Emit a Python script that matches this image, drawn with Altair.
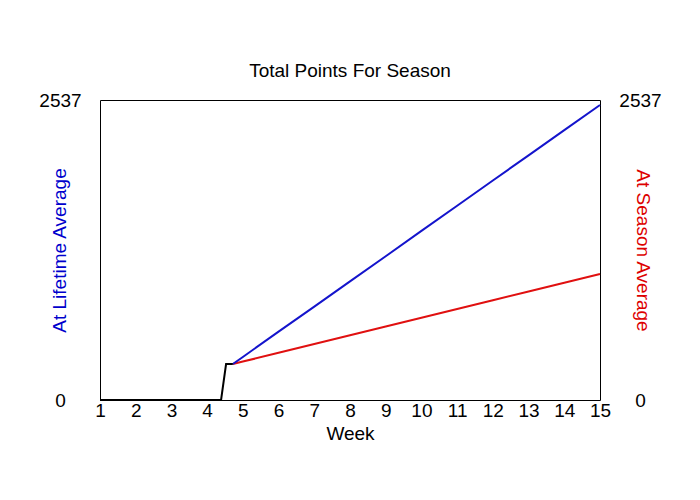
import altair as alt
import pandas as pd

# Data
black_weeks = [1, 4.39, 4.53, 4.72]
black_points = [0, 0, 304, 304]

blue_weeks = [4.72, 5, 6, 7, 8, 9, 10, 11, 12, 13, 14, 15]
blue_points = [304, 364, 578, 790, 1003, 1216, 1430, 1643, 1856, 2069, 2282, 2495]

red_weeks = [4.72, 5, 6, 7, 8, 9, 10, 11, 12, 13, 14, 15]
red_points = [304, 325, 399, 473, 548, 622, 696, 770, 844, 918, 992, 1066]

y_max = 2537
x_ticks = list(range(1, 16))

FONT = "Liberation Sans"
FS = 19

df_black = pd.DataFrame({"week": black_weeks, "points": black_points})
df_blue = pd.DataFrame({"week": blue_weeks, "points": blue_points})
df_red = pd.DataFrame({"week": red_weeks, "points": red_points})

x_enc = alt.X(
    "week:Q",
    scale=alt.Scale(domain=[1, 15], nice=False, zero=False),
    axis=alt.Axis(
        values=x_ticks, format="d", ticks=False, domain=False, grid=False,
        labelFlush=False, labelPadding=1, labelFontSize=FS, labelFont=FONT,
        labelColor="black", title="Week", titleFontSize=FS, titleFont=FONT,
        titleFontWeight="normal", titleColor="black", titlePadding=4,
    ),
)

yscale = alt.Scale(domain=[0, y_max], nice=False, zero=True)

left_axis = alt.Axis(
    values=[0, y_max], format="d", ticks=False, tickSize=0, domain=False, grid=False,
    labelAlign="center", labelPadding=40, labelFontSize=FS, labelFont=FONT,
    labelColor="black", title="At Lifetime Average", titleFontSize=FS, titleFont=FONT,
    titleFontWeight="normal", titleColor="#0000cc", titleX=-35, titleY=150,
    titleAlign="center", titleBaseline="alphabetic", titleAngle=270,
)
right_axis = alt.Axis(
    orient="right", values=[0, y_max], format="d", ticks=False, tickSize=0,
    domain=False, grid=False, labelAlign="center", labelPadding=40,
    labelFontSize=FS, labelFont=FONT, labelColor="black",
    title="At Season Average", titleFontSize=FS, titleFont=FONT,
    titleFontWeight="normal", titleColor="#dd0000", titleX=36, titleY=150,
    titleAlign="center", titleBaseline="alphabetic", titleAngle=90,
)

blue = alt.Chart(df_blue).mark_line(color="#1414cc", strokeWidth=2).encode(
    x=x_enc, y=alt.Y("points:Q", scale=yscale, axis=left_axis)
)
red = alt.Chart(df_red).mark_line(color="#e01010", strokeWidth=2).encode(
    x=x_enc, y=alt.Y("points:Q", scale=yscale, axis=right_axis)
)
black = alt.Chart(df_black).mark_line(color="black", strokeWidth=2).encode(
    x=x_enc, y=alt.Y("points:Q", scale=yscale, axis=None)
)

chart = (
    alt.layer(red, blue, black)
    .resolve_scale(y="independent")
    .properties(
        width=500,
        height=300,
        view=alt.ViewBackground(stroke="black", strokeWidth=1, fill="white"),
        title=alt.Title(
            "Total Points For Season", fontSize=FS, font=FONT,
            fontWeight="normal", color="black", anchor="middle", offset=10,
        ),
        autosize=alt.AutoSizeParams(type="none"),
        padding={"left": 92, "top": 92, "right": 92, "bottom": 92},
    )
    .configure(background="white")
)

chart.save("out.html", embed_options={"renderer": "svg", "actions": False})
